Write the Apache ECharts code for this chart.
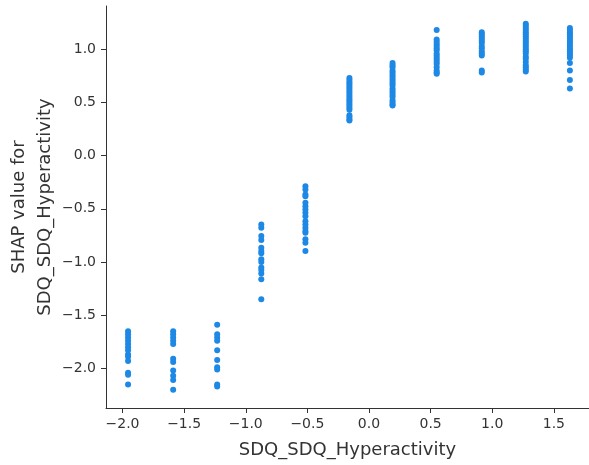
<!DOCTYPE html>
<html>
<head>
<meta charset="utf-8">
<script src="https://cdn.jsdelivr.net/npm/echarts@6/dist/echarts.min.js"></script>
<style>html,body{margin:0;padding:0;background:#fff;}#c{width:589px;height:465px;}</style>
</head>
<body>
<div id="c"></div>
<script>
// feature levels (standardized SDQ_SDQ_Hyperactivity)
const xLevels = [-1.955, -1.589, -1.232, -0.874, -0.516, -0.159, 0.191, 0.549, 0.915, 1.272, 1.630];
// SHAP values per level
const shap0 = [-1.65, -1.68, -1.71, -1.74, -1.77, -1.80, -1.83, -1.87, -1.89, -1.93, -2.04, -2.06, -2.15];
const shap1 = [-1.65, -1.68, -1.71, -1.74, -1.77, -1.91, -1.94, -2.02, -2.07, -2.11, -2.20];
const shap2 = [-1.59, -1.68, -1.71, -1.74, -1.83, -1.92, -1.99, -2.01, -2.15, -2.17];
const shap3 = [-0.647, -0.678, -0.756, -0.794, -0.865, -0.897, -0.918, -0.975, -1.0, -1.052, -1.075, -1.109, -1.162, -1.35];
const shap4 = [-0.288, -0.319, -0.366, -0.381, -0.443, -0.475, -0.506, -0.537, -0.569, -0.616, -0.647, -0.678, -0.709, -0.725, -0.787, -0.818, -0.897];
const shap5 = [0.73, 0.71, 0.69, 0.67, 0.65, 0.63, 0.61, 0.59, 0.57, 0.55, 0.53, 0.51, 0.49, 0.47, 0.45, 0.43, 0.38, 0.36, 0.34, 0.33];
const shap6 = [0.87, 0.85, 0.83, 0.80, 0.78, 0.76, 0.74, 0.72, 0.70, 0.68, 0.66, 0.63, 0.61, 0.59, 0.57, 0.55, 0.52, 0.50, 0.48, 0.47];
const shap7 = [1.18, 1.09, 1.07, 1.05, 1.03, 1.01, 0.99, 0.96, 0.94, 0.92, 0.90, 0.88, 0.86, 0.83, 0.80, 0.78, 0.77];
const shap8 = [1.16, 1.14, 1.12, 1.10, 1.08, 1.06, 1.03, 1.01, 0.98, 0.96, 0.94, 0.80, 0.78];
const shap9 = [1.24, 1.22, 1.20, 1.18, 1.16, 1.14, 1.12, 1.10, 1.08, 1.06, 1.04, 1.02, 1.00, 0.98, 0.96, 0.93, 0.91, 0.88, 0.85, 0.83, 0.81, 0.79];
const shap10 = [1.20, 1.18, 1.16, 1.14, 1.12, 1.10, 1.08, 1.06, 1.04, 1.02, 1.00, 0.98, 0.96, 0.94, 0.92, 0.87, 0.80, 0.71, 0.63];
const xTicks = [-2.0, -1.5, -1.0, -0.5, 0.0, 0.5, 1.0, 1.5];
const yTicks = [-2.0, -1.5, -1.0, -0.5, 0.0, 0.5, 1.0];

const columns = [shap0, shap1, shap2, shap3, shap4, shap5, shap6, shap7, shap8, shap9, shap10];
const points = [];
columns.forEach((col, i) => col.forEach(v => points.push([xLevels[i], v])));

const fmt = v => v.toFixed(1).replace('-', '\u2212');
const axisColor = '#333333';
const chart = echarts.init(document.getElementById('c'), null, {renderer: 'canvas'});
chart.setOption({
  animation: false,
  grid: {left: 106, right: 0, top: 6, bottom: 57, containLabel: false, outerBoundsMode: 'none'},
  xAxis: {
    type: 'value', min: -2.134, max: 1.785, interval: 0.5,
    name: 'SDQ_SDQ_Hyperactivity', nameLocation: 'middle', nameGap: 33,
    nameTextStyle: {fontFamily: 'DejaVu Sans', fontSize: 18, color: axisColor},
    axisLine: {show: true, onZero: false, lineStyle: {color: axisColor, width: 1}},
    axisTick: {show: true, length: 5, lineStyle: {color: axisColor},
      customValues: xTicks},
    axisLabel: {fontFamily: 'DejaVu Sans', fontSize: 14, color: axisColor, margin: 9,
      customValues: xTicks, formatter: fmt},
    splitLine: {show: false}
  },
  yAxis: {
    type: 'value', min: -2.372, max: 1.406,
    name: 'SHAP value for\nSDQ_SDQ_Hyperactivity', nameLocation: 'middle', nameGap: 48,
    nameMoveOverlap: false,
    nameTextStyle: {fontFamily: 'DejaVu Sans', fontSize: 18, color: axisColor, lineHeight: 26},
    axisLine: {show: true, onZero: false, lineStyle: {color: axisColor, width: 1}},
    axisTick: {show: true, length: 5, lineStyle: {color: axisColor},
      customValues: yTicks},
    axisLabel: {fontFamily: 'DejaVu Sans', fontSize: 14, color: axisColor, margin: 10,
      customValues: yTicks, formatter: fmt},
    splitLine: {show: false}
  },
  series: [{
    type: 'scatter',
    data: points,
    symbolSize: 6,
    itemStyle: {color: '#1E88E5', opacity: 1}
  }]
});
</script>
</body>
</html>
